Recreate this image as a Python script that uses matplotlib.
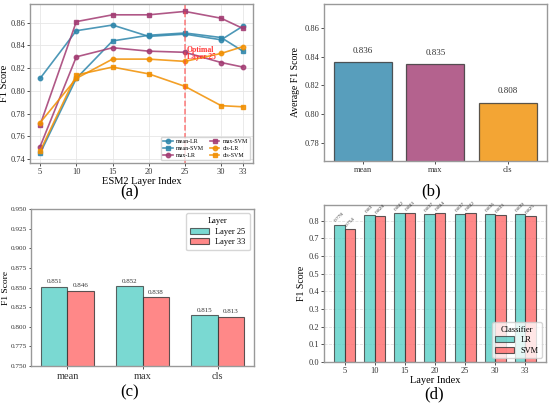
import matplotlib
matplotlib.use("Agg")
import matplotlib.pyplot as plt
import numpy as np

plt.rcParams['font.family'] = ['Liberation Serif', 'DejaVu Serif']

# ---- Panel (a) data ----
layers = [5, 10, 15, 20, 25, 30, 33]
mean_lr = [0.811, 0.853, 0.858, 0.848, 0.850, 0.845, 0.857]
mean_svm = [0.745, 0.811, 0.844, 0.849, 0.851, 0.847, 0.835]
max_lr = [0.751, 0.830, 0.838, 0.835, 0.834, 0.825, 0.821]
max_svm = [0.770, 0.861, 0.867, 0.867, 0.870, 0.864, 0.855]
cls_lr = [0.772, 0.811, 0.828, 0.828, 0.826, 0.833, 0.839]
cls_svm = [0.747, 0.814, 0.821, 0.815, 0.804, 0.787, 0.786]
optimal_layer = 25

# ---- Panel (b) data ----
pool_names = ['mean', 'max', 'cls']
avg_f1 = [0.836, 0.835, 0.808]

# ---- Panel (c) data ----
layer25_f1 = [0.851, 0.852, 0.815]
layer33_f1 = [0.846, 0.838, 0.813]

# ---- Panel (d) data ----
layer_labels = ['5', '10', '15', '20', '25', '30', '33']
lr_f1 = [0.778, 0.83, 0.842, 0.837, 0.837, 0.836, 0.839]
svm_f1 = [0.754, 0.828, 0.843, 0.844, 0.842, 0.833, 0.825]

c_mean, c_max, c_cls = '#2E86AB', '#A23B72', '#F18F01'
c_teal, c_red = '#4ECDC4', '#FF6B6B'
spine_col = '#999999'

fig = plt.figure(figsize=(5.5, 4.03), dpi=100)

def style(ax, ls=6):
    for s in ax.spines.values():
        s.set_color(spine_col)
        s.set_linewidth(1.0)
    ax.tick_params(labelsize=ls, length=2.0, width=0.6, pad=1.5, colors='#333333')

# (a)
ax1 = fig.add_axes([0.0545, 0.5955, 0.4055, 0.3945])
series = [('mean-LR', mean_lr, c_mean, 'o'), ('mean-SVM', mean_svm, c_mean, 's'),
          ('max-LR', max_lr, c_max, 'o'), ('max-SVM', max_svm, c_max, 's'),
          ('cls-LR', cls_lr, c_cls, 'o'), ('cls-SVM', cls_svm, c_cls, 's')]
for name, vals, col, mk in series:
    ax1.plot(layers, vals, color=col, marker=mk, markersize=3.2, linewidth=1.2,
             alpha=0.85, label=name)
ax1.axvline(optimal_layer, color='#FF4444', linestyle='--', linewidth=1.1, alpha=0.7)
ax1.text(optimal_layer + 0.3, 0.8262, 'Optimal\nLayer 25', color='#FF3333', fontsize=5.5,
         fontweight='bold', va='bottom', ha='left', linespacing=0.9)
ax1.set_xticks(layers)
ax1.set_yticks([0.74, 0.76, 0.78, 0.80, 0.82, 0.84, 0.86])
ax1.set_ylim(0.7365, 0.8765)
ax1.grid(True, color='#e6e6e6', linewidth=0.6)
ax1.set_axisbelow(True)
ax1.set_xlabel('ESM2 Layer Index', fontsize=7.5, labelpad=0.5)
ax1.set_ylabel('F1 Score', fontsize=7.5, labelpad=1)
ax1.legend(loc='lower right', ncol=2, fontsize=4.3, frameon=True, handlelength=1.6,
           columnspacing=1.0, borderpad=0.4, labelspacing=0.25, handletextpad=0.5)
style(ax1)

# (b)
ax2 = fig.add_axes([0.589, 0.6005, 0.4055, 0.3896])
xb = np.arange(len(pool_names))
ax2.bar(xb, avg_f1, width=0.8, color=[c_mean, c_max, c_cls], alpha=0.8,
        edgecolor='#333333', linewidth=0.9)
for x, v in zip(xb, avg_f1):
    ax2.text(x, v + 0.005, f'{v:.3f}', ha='center', va='bottom', fontsize=6.5, color='#333333')
ax2.set_xticks(xb)
ax2.set_xticklabels(pool_names)
ax2.set_ylim(min(avg_f1) - 0.0405, max(avg_f1) + 0.0405)
ax2.set_yticks([0.78, 0.80, 0.82, 0.84, 0.86])
ax2.set_ylabel('Average F1 Score', fontsize=7, labelpad=3)
style(ax2)

# (c)
ax3 = fig.add_axes([0.0564, 0.0918, 0.4055, 0.3896])
xc = np.arange(len(pool_names))
w = 0.35
ax3.bar(xc - w / 2, layer25_f1, width=w, color=c_teal, alpha=0.75, edgecolor='#333333',
        linewidth=0.8, label='Layer 25')
ax3.bar(xc + w / 2, layer33_f1, width=w, color=c_red, alpha=0.8, edgecolor='#333333',
        linewidth=0.8, label='Layer 33')
for x, v in zip(xc - w / 2, layer25_f1):
    ax3.text(x, v + 0.003, f'{v:.3f}', ha='center', va='bottom', fontsize=5, color='#333333')
for x, v in zip(xc + w / 2, layer33_f1):
    ax3.text(x, v + 0.003, f'{v:.3f}', ha='center', va='bottom', fontsize=5, color='#333333')
ax3.set_xticks(xc)
ax3.set_xticklabels(pool_names)
ax3.set_ylim(0.75, 0.95)
ax3.set_yticks(np.arange(0.75, 0.951, 0.025))
ax3.set_ylabel('F1 Score', fontsize=6.8, labelpad=0.5)
style(ax3, ls=5.2)
ax3.tick_params(axis='y', pad=1.0, length=1.8)
ax3.tick_params(axis='x', labelsize=7.5, pad=2)
ax3.legend(title='Layer', loc='upper right', fontsize=6, title_fontsize=6, handlelength=2.2,
           borderpad=0.5, labelspacing=0.3)

# (d)
ax4 = fig.add_axes([0.589, 0.1017, 0.4036, 0.3896])
xd = np.arange(len(layer_labels))
ax4.bar(xd - w / 2, lr_f1, width=w, color=c_teal, alpha=0.75, edgecolor='#333333',
        linewidth=0.8, label='LR')
ax4.bar(xd + w / 2, svm_f1, width=w, color=c_red, alpha=0.8, edgecolor='#333333',
        linewidth=0.8, label='SVM')
for x, v in zip(xd - w / 2, lr_f1):
    ax4.text(x, v + 0.008, f'{round(v, 3)}', ha='center', va='bottom', fontsize=3.8,
             rotation=45, color='#333333')
for x, v in zip(xd + w / 2, svm_f1):
    ax4.text(x, v + 0.008, f'{round(v, 3)}', ha='center', va='bottom', fontsize=3.8,
             rotation=45, color='#333333')
ax4.set_xticks(xd)
ax4.set_xticklabels(layer_labels)
ax4.set_ylim(0, 0.889)
ax4.set_yticks(np.arange(0, 0.81, 0.1))
ax4.yaxis.grid(True, linestyle='--', color='#e0e0e0', linewidth=0.6)
ax4.set_axisbelow(True)
ax4.set_xlabel('Layer Index', fontsize=7.5, labelpad=0.5)
ax4.set_ylabel('F1 Score', fontsize=7, labelpad=2)
style(ax4)
ax4.legend(title='Classifier', loc='lower right', fontsize=6, title_fontsize=6,
           handlelength=2.2, borderpad=0.4, labelspacing=0.3)

# captions
fig.text(0.236, 0.523, '(a)', ha='center', va='center', fontsize=12)
fig.text(0.783, 0.526, '(b)', ha='center', va='center', fontsize=12)
fig.text(0.236, 0.027, '(c)', ha='center', va='center', fontsize=12)
fig.text(0.790, 0.022, '(d)', ha='center', va='center', fontsize=12)

fig.savefig('out.png', dpi=100)
